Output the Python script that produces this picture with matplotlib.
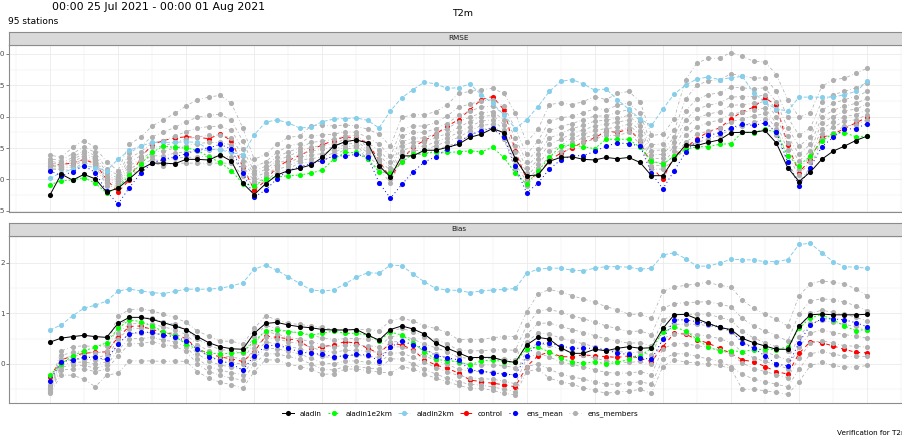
import numpy as np
import matplotlib
matplotlib.use("Agg")
import matplotlib.pyplot as plt
from matplotlib.lines import Line2D

# ---------------------------------------------------------------- data
lead_time = np.arange(73)

rmse_aladin = [0.75, 1.085, 0.99, 1.08, 1.01, 0.80, 0.86, 1.01, 1.165, 1.26,
               1.26, 1.25, 1.32, 1.32, 1.31, 1.39, 1.29, 0.94, 0.76, 0.93,
               1.07, 1.14, 1.18, 1.23, 1.35, 1.53, 1.60, 1.63, 1.58, 1.22,
               1.04, 1.375, 1.375, 1.465, 1.465, 1.51, 1.56, 1.67, 1.72, 1.81,
               1.745, 1.33, 1.06, 1.07, 1.29, 1.35, 1.36, 1.32, 1.31, 1.35,
               1.33, 1.35, 1.27, 1.06, 1.06, 1.33, 1.55, 1.54, 1.59, 1.63,
               1.745, 1.75, 1.75, 1.78, 1.58, 1.19, 0.965, 1.12, 1.32, 1.45,
               1.53, 1.62, 1.69]
rmse_aladin1e2km = [0.916, 0.98, 0.99, 1.03, 0.94, 0.785, 0.87, 1.07, 1.24, 1.43,
                    1.53, 1.51, 1.50, 1.465, 1.36, 1.27, 1.14, 0.93, 0.90, 1.01,
                    1.04, 1.06, 1.07, 1.10, 1.15, 1.32, 1.43, 1.43, 1.32, 1.12,
                    1.11, 1.27, 1.41, 1.41, 1.44, 1.43, 1.44, 1.455, 1.44, 1.51,
                    1.35, 1.10, 0.93, 1.13, 1.35, 1.53, 1.55, 1.52, 1.49, 1.64,
                    1.64, 1.64, 1.51, 1.30, 1.24, 1.375, 1.48, 1.52, 1.52, 1.56,
                    1.57, 1.75, 1.745, 1.80, 1.75, 1.375, 1.22, 1.375, 1.61, 1.73,
                    1.745, 1.68, 1.69]
rmse_aladin2km = [1.017, 1.11, 1.16, 1.22, 1.19, 1.14, 1.32, 1.465, 1.53, 1.59,
                  1.59, 1.59, 1.60, 1.59, 1.48, 1.47, 1.43, 1.39, 1.71, 1.91,
                  1.95, 1.90, 1.82, 1.83, 1.92, 1.96, 1.97, 1.98, 1.94, 1.82,
                  2.09, 2.30, 2.43, 2.55, 2.52, 2.45, 2.46, 2.52, 2.35, 2.21,
                  2.03, 1.81, 1.95, 2.16, 2.40, 2.56, 2.59, 2.52, 2.42, 2.44,
                  2.27, 2.12, 1.96, 1.86, 2.12, 2.36, 2.50, 2.60, 2.63, 2.59,
                  2.62, 2.64, 2.38, 2.23, 2.12, 2.09, 2.31, 2.31, 2.31, 2.31,
                  2.35, 2.40, 2.56]
rmse_control = [1.22, 1.24, 1.26, 1.32, 1.25, 1.00, 0.80, 0.99, 1.35, 1.55,
                1.62, 1.66, 1.68, 1.67, 1.65, 1.72, 1.62, 1.20, 0.83, 0.98,
                1.20, 1.30, 1.38, 1.47, 1.55, 1.62, 1.68, 1.66, 1.58, 1.30,
                1.02, 1.30, 1.52, 1.62, 1.72, 1.85, 1.95, 2.11, 2.27, 2.32,
                2.11, 1.45, 1.00, 1.08, 1.30, 1.42, 1.50, 1.60, 1.66, 1.77,
                1.75, 1.80, 1.62, 1.20, 1.00, 1.38, 1.50, 1.65, 1.755, 1.82,
                1.96, 2.08, 2.15, 2.30, 2.18, 1.55, 1.11, 1.32, 1.67, 1.72,
                1.81, 1.90, 1.99]
rmse_ens_mean = [1.138, 1.06, 1.12, 1.22, 1.11, 0.81, 0.61, 0.87, 1.10, 1.26,
                 1.32, 1.36, 1.41, 1.47, 1.50, 1.56, 1.48, 1.11, 0.72, 0.83,
                 1.01, 1.14, 1.20, 1.25, 1.30, 1.375, 1.375, 1.40, 1.36, 0.95,
                 0.70, 0.92, 1.12, 1.28, 1.36, 1.48, 1.59, 1.71, 1.77, 1.82,
                 1.67, 1.21, 0.785, 0.94, 1.165, 1.31, 1.375, 1.38, 1.445, 1.53,
                 1.58, 1.57, 1.53, 1.10, 0.85, 1.14, 1.43, 1.63, 1.70, 1.745,
                 1.82, 1.88, 1.86, 1.90, 1.76, 1.28, 0.90, 1.19, 1.52, 1.67,
                 1.80, 1.81, 1.89]
rmse_members = [
    [1.39, 1.35, 1.51, 1.62, 1.51, 1.28, 1.14, 1.56, 1.67, 1.85,
     1.95, 2.05, 2.17, 2.27, 2.31, 2.34, 2.21, 1.82, 1.32, 1.40,
     1.56, 1.67, 1.69, 1.85, 1.87, 1.85, 1.87, 1.85, 1.80, 1.72,
     1.53, 1.99, 2.03, 2.03, 2.08, 2.19, 2.37, 2.40, 2.43, 2.45,
     2.37, 2.06, 1.59, 1.80, 2.19, 2.22, 2.19, 2.24, 2.32, 2.27,
     2.37, 2.40, 2.24, 1.70, 1.72, 1.96, 2.59, 2.85, 2.93, 2.93,
     3.02, 2.96, 2.88, 2.87, 2.67, 2.27, 1.99, 2.06, 2.48, 2.59,
     2.61, 2.69, 2.77],
    [1.33, 1.30, 1.41, 1.52, 1.43, 1.17, 1.07, 1.42, 1.53, 1.68,
     1.75, 1.83, 1.92, 1.99, 2.02, 2.04, 1.94, 1.61, 1.20, 1.28,
     1.43, 1.53, 1.57, 1.69, 1.71, 1.72, 1.76, 1.75, 1.67, 1.56,
     1.37, 1.80, 1.85, 1.85, 1.91, 2.01, 2.15, 2.20, 2.25, 2.27,
     2.17, 1.81, 1.40, 1.61, 1.93, 1.98, 2.01, 2.06, 2.13, 2.11,
     2.18, 2.22, 2.05, 1.55, 1.57, 1.78, 2.28, 2.50, 2.57, 2.59,
     2.68, 2.65, 2.61, 2.62, 2.40, 1.99, 1.70, 1.82, 2.24, 2.35,
     2.40, 2.46, 2.54],
    [1.29, 1.26, 1.35, 1.46, 1.38, 1.11, 1.02, 1.34, 1.44, 1.58,
     1.62, 1.69, 1.76, 1.82, 1.84, 1.85, 1.78, 1.48, 1.13, 1.21,
     1.36, 1.44, 1.50, 1.59, 1.61, 1.64, 1.69, 1.70, 1.58, 1.47,
     1.27, 1.69, 1.75, 1.75, 1.81, 1.89, 2.02, 2.09, 2.15, 2.17,
     2.04, 1.66, 1.28, 1.49, 1.78, 1.84, 1.89, 1.95, 2.01, 2.01,
     2.07, 2.11, 1.93, 1.46, 1.47, 1.67, 2.09, 2.28, 2.35, 2.38,
     2.47, 2.46, 2.44, 2.46, 2.23, 1.82, 1.53, 1.67, 2.10, 2.21,
     2.27, 2.32, 2.40],
    [1.26, 1.24, 1.31, 1.42, 1.34, 1.06, 0.99, 1.27, 1.38, 1.51,
     1.53, 1.59, 1.64, 1.68, 1.70, 1.71, 1.66, 1.38, 1.08, 1.16,
     1.30, 1.37, 1.45, 1.51, 1.54, 1.57, 1.64, 1.65, 1.52, 1.40,
     1.19, 1.60, 1.66, 1.66, 1.73, 1.81, 1.92, 1.99, 2.06, 2.08,
     1.95, 1.54, 1.19, 1.40, 1.66, 1.73, 1.81, 1.86, 1.93, 1.94,
     1.98, 2.02, 1.85, 1.39, 1.40, 1.59, 1.95, 2.12, 2.18, 2.22,
     2.31, 2.32, 2.32, 2.34, 2.11, 1.69, 1.40, 1.56, 1.99, 2.10,
     2.17, 2.21, 2.29],
    [1.23, 1.22, 1.27, 1.38, 1.31, 1.02, 0.96, 1.22, 1.32, 1.44,
     1.45, 1.50, 1.54, 1.57, 1.59, 1.59, 1.55, 1.30, 1.03, 1.11,
     1.25, 1.32, 1.40, 1.45, 1.48, 1.52, 1.60, 1.62, 1.47, 1.33,
     1.13, 1.53, 1.60, 1.60, 1.67, 1.73, 1.83, 1.92, 2.00, 2.02,
     1.87, 1.44, 1.11, 1.32, 1.56, 1.64, 1.73, 1.79, 1.85, 1.88,
     1.91, 1.95, 1.77, 1.33, 1.34, 1.52, 1.82, 1.98, 2.04, 2.08,
     2.18, 2.19, 2.21, 2.24, 2.00, 1.58, 1.29, 1.46, 1.90, 2.00,
     2.09, 2.12, 2.20],
    [1.21, 1.20, 1.23, 1.34, 1.28, 0.98, 0.93, 1.16, 1.27, 1.38,
     1.37, 1.42, 1.44, 1.46, 1.47, 1.48, 1.45, 1.21, 0.98, 1.06,
     1.20, 1.26, 1.35, 1.39, 1.41, 1.47, 1.56, 1.58, 1.42, 1.27,
     1.07, 1.45, 1.53, 1.53, 1.60, 1.66, 1.75, 1.84, 1.93, 1.95,
     1.79, 1.34, 1.04, 1.25, 1.45, 1.54, 1.66, 1.72, 1.78, 1.81,
     1.83, 1.88, 1.70, 1.27, 1.28, 1.45, 1.70, 1.84, 1.90, 1.95,
     2.04, 2.07, 2.10, 2.14, 1.89, 1.47, 1.17, 1.36, 1.81, 1.91,
     2.00, 2.03, 2.11],
    [1.18, 1.18, 1.20, 1.31, 1.25, 0.94, 0.90, 1.11, 1.22, 1.32,
     1.29, 1.34, 1.35, 1.36, 1.37, 1.37, 1.36, 1.14, 0.94, 1.02,
     1.16, 1.21, 1.31, 1.33, 1.36, 1.42, 1.52, 1.54, 1.37, 1.22,
     1.01, 1.39, 1.46, 1.46, 1.54, 1.60, 1.67, 1.77, 1.86, 1.88,
     1.71, 1.25, 0.97, 1.18, 1.36, 1.46, 1.60, 1.66, 1.71, 1.76,
     1.77, 1.82, 1.63, 1.22, 1.22, 1.38, 1.59, 1.72, 1.77, 1.82,
     1.92, 1.96, 2.01, 2.05, 1.80, 1.37, 1.07, 1.28, 1.72, 1.83,
     1.93, 1.95, 2.03],
    [1.16, 1.16, 1.16, 1.27, 1.22, 0.90, 0.875, 1.06, 1.165, 1.26,
     1.22, 1.26, 1.26, 1.26, 1.26, 1.26, 1.26, 1.06, 0.90, 0.98,
     1.11, 1.16, 1.27, 1.27, 1.30, 1.375, 1.48, 1.51, 1.32, 1.16,
     0.95, 1.32, 1.40, 1.40, 1.48, 1.53, 1.59, 1.70, 1.80, 1.82,
     1.64, 1.16, 0.90, 1.11, 1.27, 1.375, 1.53, 1.59, 1.64, 1.70,
     1.70, 1.75, 1.56, 1.165, 1.165, 1.32, 1.48, 1.59, 1.64, 1.70,
     1.80, 1.85, 1.91, 1.96, 1.70, 1.27, 0.97, 1.19, 1.64, 1.74,
     1.85, 1.87, 1.95],
]

bias_aladin = [0.43, 0.51, 0.54, 0.565, 0.54, 0.525, 0.80, 0.92, 0.92, 0.88,
               0.815, 0.75, 0.68, 0.54, 0.42, 0.34, 0.30, 0.29, 0.605, 0.80,
               0.82, 0.77, 0.735, 0.715, 0.68, 0.67, 0.67, 0.68, 0.57, 0.47,
               0.68, 0.75, 0.69, 0.59, 0.41, 0.31, 0.22, 0.125, 0.13, 0.13,
               0.065, 0.03, 0.375, 0.525, 0.49, 0.32, 0.21, 0.21, 0.29, 0.26,
               0.31, 0.34, 0.31, 0.32, 0.70, 0.97, 0.98, 0.89, 0.80, 0.72,
               0.68, 0.505, 0.42, 0.355, 0.29, 0.29, 0.75, 0.97, 0.985, 0.97,
               0.97, 0.97, 0.98]
bias_aladin1e2km = [-0.22, 0.0, 0.16, 0.26, 0.33, 0.42, 0.70, 0.87, 0.835, 0.75,
                    0.64, 0.55, 0.39, 0.29, 0.21, 0.20, 0.21, 0.23, 0.45, 0.65,
                    0.67, 0.64, 0.62, 0.57, 0.605, 0.65, 0.605, 0.605, 0.57, 0.46,
                    0.63, 0.57, 0.42, 0.24, 0.09, 0.065, 0.045, -0.02, 0.06, 0.08,
                    0.045, 0.03, 0.30, 0.33, 0.24, 0.11, 0.045, 0.013, 0.045, 0.0,
                    0.03, 0.09, 0.16, 0.31, 0.625, 0.735, 0.65, 0.49, 0.33, 0.26,
                    0.26, 0.245, 0.28, 0.29, 0.28, 0.34, 0.70, 0.915, 0.97, 0.87,
                    0.75, 0.66, 0.68]
bias_aladin2km = [0.67, 0.77, 0.95, 1.10, 1.16, 1.24, 1.44, 1.48, 1.44, 1.41,
                  1.39, 1.43, 1.48, 1.47, 1.48, 1.49, 1.54, 1.60, 1.87, 1.95,
                  1.85, 1.72, 1.59, 1.46, 1.44, 1.46, 1.58, 1.71, 1.80, 1.79,
                  1.95, 1.94, 1.775, 1.62, 1.49, 1.46, 1.45, 1.41, 1.44, 1.46,
                  1.47, 1.49, 1.79, 1.87, 1.89, 1.89, 1.85, 1.84, 1.89, 1.92,
                  1.92, 1.91, 1.87, 1.89, 2.15, 2.195, 2.08, 1.93, 1.93, 1.99,
                  2.065, 2.06, 2.05, 2.02, 2.02, 2.06, 2.36, 2.38, 2.195, 2.02,
                  1.92, 1.91, 1.89]
bias_control = [-0.25, 0.08, 0.16, 0.21, 0.23, 0.24, 0.525, 0.74, 0.75, 0.68,
                0.62, 0.58, 0.50, 0.30, 0.20, 0.14, 0.10, 0.05, 0.24, 0.55,
                0.525, 0.50, 0.45, 0.31, 0.34, 0.375, 0.44, 0.41, 0.31, 0.21,
                0.41, 0.375, 0.28, 0.08, -0.02, -0.085, -0.18, -0.315, -0.35, -0.38,
                -0.41, -0.45, -0.05, 0.16, 0.24, 0.145, 0.14, 0.18, 0.16, 0.145,
                0.13, 0.16, 0.11, 0.045, 0.34, 0.605, 0.59, 0.48, 0.41, 0.31,
                0.21, 0.08, 0.045, -0.05, -0.15, -0.20, 0.21, 0.44, 0.42, 0.355,
                0.29, 0.23, 0.22]
bias_ens_mean = [-0.335, 0.045, 0.08, 0.13, 0.13, 0.09, 0.39, 0.60, 0.625, 0.625,
                 0.57, 0.54, 0.46, 0.29, 0.145, 0.065, 0.0, -0.12, 0.16, 0.355,
                 0.375, 0.31, 0.24, 0.21, 0.19, 0.145, 0.16, 0.19, 0.175, 0.065,
                 0.33, 0.46, 0.375, 0.31, 0.16, 0.125, 0.08, -0.12, -0.14, -0.18,
                 -0.20, -0.22, 0.16, 0.41, 0.41, 0.355, 0.31, 0.31, 0.31, 0.28,
                 0.21, 0.19, 0.125, 0.09, 0.49, 0.87, 0.87, 0.835, 0.79, 0.735,
                 0.66, 0.42, 0.31, 0.16, 0.0, -0.04, 0.42, 0.77, 0.89, 0.89,
                 0.87, 0.815, 0.735]
bias_members = [
    [-0.41, 0.26, 0.34, 0.36, 0.34, 0.36, 0.95, 1.07, 1.09, 1.05,
     0.98, 0.92, 0.82, 0.65, 0.55, 0.45, 0.45, 0.39, 0.70, 0.95,
     0.87, 0.80, 0.78, 0.75, 0.72, 0.68, 0.68, 0.68, 0.68, 0.66,
     0.85, 0.90, 0.85, 0.75, 0.70, 0.62, 0.48, 0.48, 0.48, 0.52,
     0.54, 0.54, 1.03, 1.38, 1.47, 1.42, 1.35, 1.28, 1.22, 1.13,
     1.07, 0.98, 0.98, 0.90, 1.43, 1.52, 1.55, 1.58, 1.61, 1.55,
     1.52, 1.26, 1.10, 0.98, 0.88, 0.75, 1.35, 1.58, 1.64, 1.61,
     1.58, 1.48, 1.35],
    [-0.445, 0.17, 0.23, 0.25, 0.22, 0.25, 0.75, 0.90, 0.92, 0.90,
     0.83, 0.78, 0.68, 0.49, 0.38, 0.28, 0.27, 0.21, 0.53, 0.76,
     0.70, 0.64, 0.61, 0.56, 0.52, 0.48, 0.50, 0.50, 0.49, 0.47,
     0.66, 0.70, 0.64, 0.54, 0.48, 0.40, 0.27, 0.26, 0.26, 0.28,
     0.28, 0.27, 0.76, 1.04, 1.08, 1.02, 0.95, 0.89, 0.83, 0.75,
     0.70, 0.64, 0.65, 0.58, 1.10, 1.19, 1.21, 1.22, 1.23, 1.18,
     1.13, 0.90, 0.75, 0.65, 0.56, 0.45, 0.99, 1.24, 1.29, 1.26,
     1.22, 1.15, 1.05],
    [-0.47, 0.10, 0.16, 0.17, 0.13, 0.17, 0.61, 0.79, 0.80, 0.79,
     0.73, 0.68, 0.58, 0.38, 0.26, 0.17, 0.14, 0.09, 0.41, 0.64,
     0.59, 0.53, 0.49, 0.44, 0.38, 0.34, 0.37, 0.37, 0.36, 0.34,
     0.54, 0.56, 0.49, 0.39, 0.32, 0.24, 0.13, 0.11, 0.10, 0.11,
     0.10, 0.08, 0.58, 0.80, 0.81, 0.74, 0.68, 0.62, 0.56, 0.49,
     0.45, 0.41, 0.42, 0.35, 0.87, 0.97, 0.98, 0.98, 0.98, 0.92,
     0.86, 0.65, 0.51, 0.42, 0.34, 0.25, 0.74, 1.00, 1.06, 1.02,
     0.98, 0.92, 0.85],
    [-0.49, 0.05, 0.09, 0.10, 0.07, 0.10, 0.50, 0.69, 0.70, 0.71,
     0.64, 0.60, 0.50, 0.29, 0.16, 0.07, 0.04, -0.01, 0.31, 0.53,
     0.49, 0.44, 0.40, 0.33, 0.26, 0.23, 0.27, 0.27, 0.25, 0.23,
     0.43, 0.45, 0.37, 0.27, 0.20, 0.12, 0.02, -0.01, -0.02, -0.02,
     -0.04, -0.07, 0.43, 0.61, 0.59, 0.51, 0.45, 0.40, 0.34, 0.27,
     0.25, 0.22, 0.24, 0.17, 0.69, 0.78, 0.79, 0.78, 0.76, 0.71,
     0.64, 0.44, 0.32, 0.24, 0.16, 0.08, 0.54, 0.81, 0.86, 0.82,
     0.78, 0.74, 0.68],
    [-0.51, -0.01, 0.03, 0.04, 0.0, 0.04, 0.39, 0.60, 0.61, 0.62,
     0.56, 0.52, 0.42, 0.20, 0.06, -0.02, -0.06, -0.11, 0.21, 0.43,
     0.40, 0.35, 0.30, 0.23, 0.15, 0.12, 0.17, 0.17, 0.15, 0.13,
     0.33, 0.34, 0.26, 0.16, 0.07, -0.01, -0.10, -0.14, -0.15, -0.16,
     -0.19, -0.22, 0.27, 0.41, 0.37, 0.29, 0.23, 0.17, 0.12, 0.06,
     0.04, 0.03, 0.05, -0.01, 0.50, 0.60, 0.61, 0.58, 0.55, 0.50,
     0.42, 0.24, 0.12, 0.05, -0.02, -0.09, 0.34, 0.61, 0.67, 0.62,
     0.58, 0.55, 0.51],
    [-0.53, -0.06, -0.03, -0.03, -0.08, -0.03, 0.27, 0.50, 0.50, 0.53,
     0.47, 0.44, 0.34, 0.10, -0.05, -0.12, -0.17, -0.21, 0.11, 0.31,
     0.30, 0.25, 0.20, 0.11, 0.02, 0.0, 0.06, 0.06, 0.03, 0.01,
     0.21, 0.22, 0.13, 0.03, -0.07, -0.15, -0.23, -0.27, -0.29, -0.30,
     -0.34, -0.39, 0.11, 0.21, 0.14, 0.04, -0.01, -0.06, -0.11, -0.17,
     -0.18, -0.18, -0.15, -0.21, 0.30, 0.40, 0.40, 0.36, 0.33, 0.28,
     0.19, 0.02, -0.09, -0.15, -0.21, -0.27, 0.12, 0.41, 0.46, 0.41,
     0.36, 0.35, 0.33],
    [-0.55, -0.12, -0.10, -0.10, -0.15, -0.10, 0.15, 0.40, 0.40, 0.44,
     0.38, 0.35, 0.25, 0.0, -0.15, -0.22, -0.28, -0.32, 0.0, 0.20,
     0.20, 0.15, 0.10, 0.0, -0.10, -0.12, -0.05, -0.05, -0.08, -0.10,
     0.10, 0.10, 0.0, -0.10, -0.20, -0.28, -0.35, -0.40, -0.42, -0.45,
     -0.50, -0.55, -0.05, 0.0, -0.10, -0.20, -0.25, -0.30, -0.35, -0.40,
     -0.40, -0.38, -0.35, -0.40, 0.10, 0.20, 0.20, 0.15, 0.10, 0.05,
     -0.05, -0.20, -0.30, -0.35, -0.40, -0.45, -0.10, 0.20, 0.25, 0.20,
     0.15, 0.15, 0.15],
    [-0.58, -0.22, -0.22, -0.30, -0.45, -0.22, -0.18, 0.06, 0.06, 0.06,
     0.05, 0.06, 0.05, -0.15, -0.28, -0.36, -0.41, -0.48, -0.15, 0.08,
     0.08, 0.0, -0.05, -0.10, -0.20, -0.20, -0.10, -0.10, -0.13, -0.16,
     -0.18, -0.05, -0.10, -0.20, -0.28, -0.35, -0.42, -0.48, -0.48, -0.52,
     -0.58, -0.61, -0.15, -0.10, -0.28, -0.35, -0.40, -0.47, -0.52, -0.58,
     -0.55, -0.54, -0.50, -0.58, -0.05, 0.08, 0.04, 0.02, 0.0, -0.03,
     -0.09, -0.50, -0.50, -0.53, -0.56, -0.60, -0.35, -0.03, 0.03, -0.03,
     -0.06, -0.06, -0.03],
]

models = ["aladin", "aladin1e2km", "aladin2km", "control", "ens_mean", "ens_members"]
rmse_ticks = [0.5, 1.0, 1.5, 2.0, 2.5, 3.0]
bias_ticks = [0, 1, 2]

# ---------------------------------------------------------------- style
colours = {"aladin": "#000000", "aladin1e2km": "#00FF00", "aladin2km": "#87CEEB",
           "control": "#FF0000", "ens_mean": "#0000FF", "ens_members": "#B0B0B0"}
dashes = {"aladin": "-", "aladin1e2km": (0, (2, 2)), "aladin2km": (0, (4, 2)),
          "control": (0, (4, 4)), "ens_mean": (0, (1, 3)),
          "ens_members": (0, (1, 3, 4, 3))}
LW = 0.7
MS = 3.7
GRID = "#EBEBEB"
BORDER = "#8C8C8C"
TXT = "#4D4D4D"

W, H = 903, 441
fig = plt.figure(figsize=(W / 100, H / 100), dpi=100)
fig.patch.set_facecolor("white")


def fx(px):
    return px / W


def fy(py):
    return 1 - py / H


left, right = 9, 908


def panel(top, bottom, strip_top, label, series, members, ylim, ticks, ticklabels,
          minor):
    ax = fig.add_axes([fx(left), fy(bottom), fx(right - left), (bottom - top) / H])
    ax.set_xlim(-3.6, 75.6)
    ax.set_ylim(*ylim)
    ax.set_xticks(np.arange(0, 73, 6))
    ax.set_xticks(np.arange(-3, 76, 6), minor=True)
    ax.set_yticks(ticks)
    ax.set_yticklabels(ticklabels)
    ax.set_yticks(minor, minor=True)
    ax.grid(which="major", color=GRID, lw=0.6)
    ax.grid(which="minor", color=GRID, lw=0.35)
    ax.set_axisbelow(True)
    ax.tick_params(axis="x", which="both", length=0, labelbottom=False)
    ax.tick_params(axis="y", which="major", length=2.2, width=0.5, color=TXT,
                   pad=0.8, labelsize=5.2, labelcolor=TXT)
    ax.tick_params(axis="y", which="minor", length=0)
    for s in ax.spines.values():
        s.set_color(BORDER)
        s.set_linewidth(0.8)

    # control run sits underneath the ensemble members
    ax.plot(lead_time, series["control"], color=colours["control"],
            ls=dashes["control"], lw=LW, marker="o", ms=MS, mew=0, zorder=2)
    for m in members:
        ax.plot(lead_time, m, color=colours["ens_members"], ls=dashes["ens_members"],
                lw=0.55, marker="o", ms=MS, mew=0, zorder=2.5)
    for name in ["aladin2km", "aladin1e2km", "ens_mean", "aladin"]:
        ax.plot(lead_time, series[name], color=colours[name], ls=dashes[name],
                lw=LW, marker="o", ms=MS, mew=0, zorder=3)

    st = fig.add_axes([fx(left), fy(top), fx(right - left), (top - strip_top) / H])
    st.set_facecolor("#D9D9D9")
    st.set_xticks([])
    st.set_yticks([])
    for s in st.spines.values():
        s.set_color(BORDER)
        s.set_linewidth(0.8)
    fig.text(fx((left + right) / 2), fy((top + strip_top) / 2), label,
             ha="center", va="center", fontsize=5.2, color="#1A1A1A")
    return ax


panel(45, 211.5, 31.5, "RMSE",
      {"aladin": rmse_aladin, "aladin1e2km": rmse_aladin1e2km,
       "aladin2km": rmse_aladin2km, "control": rmse_control,
       "ens_mean": rmse_ens_mean},
      rmse_members, (0.49, 3.14), rmse_ticks,
      ["%.1f" % t for t in rmse_ticks], [0.75, 1.25, 1.75, 2.25, 2.75])

panel(236, 403, 222.5, "Bias",
      {"aladin": bias_aladin, "aladin1e2km": bias_aladin1e2km,
       "aladin2km": bias_aladin2km, "control": bias_control,
       "ens_mean": bias_ens_mean},
      bias_members, (-0.77, 2.525), bias_ticks,
      [str(t) for t in bias_ticks], [-0.5, 0.5, 1.5, 2.5])

# ---------------------------------------------------------------- titles
fig.text(fx(52), fy(7.5), "00:00 25 Jul 2021 - 00:00 01 Aug 2021",
         ha="left", va="center", fontsize=7.9, color="#000000")
fig.text(fx(8), fy(21.5), "95 stations", ha="left", va="center",
         fontsize=6.5, color="#000000")
fig.text(fx(463), fy(14), "T2m", ha="center", va="center",
         fontsize=6.8, color="#000000")
fig.text(fx(836.7), fy(433), "Verification for T2m", ha="left", va="center",
         fontsize=5.2, color="#000000")

# ---------------------------------------------------------------- legend
handles = []
for name in models:
    handles.append(Line2D([0], [0], color=colours[name], ls=dashes[name],
                          lw=LW if name != "ens_members" else 0.55,
                          marker="o", ms=MS, mew=0))
fig.legend(handles, models, loc="center", bbox_to_anchor=(fx(460), fy(414)),
           ncol=6, frameon=False, fontsize=5.2, handlelength=1.6,
           handletextpad=0.85, columnspacing=0.85, borderpad=0)

fig.savefig("out.png", dpi=100, facecolor="white")
